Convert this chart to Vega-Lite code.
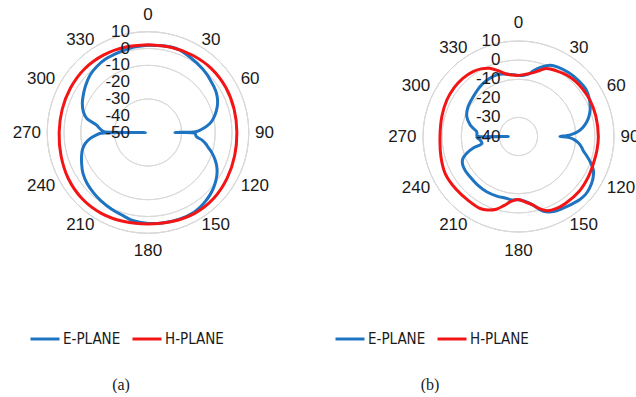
{
  "$schema": "https://vega.github.io/schema/vega-lite/v6.json",
  "padding": 0,
  "background": "white",
  "spacing": 10,
  "resolve": {
    "scale": {"color": "independent", "radius": "independent", "theta": "independent"},
    "legend": {"color": "independent"}
  },
  "config": {
    "view": {"stroke": null},
    "title": {"font": "Liberation Serif", "fontSize": 16, "fontWeight": "normal", "color": "#1a1a1a"},
    "text": {"font": "Liberation Sans", "fontSize": 17, "color": "#1a1a1a"}
  },
  "datasets": {
    "angles": [
      {"deg": 0}, {"deg": 30}, {"deg": 60}, {"deg": 90}, {"deg": 120}, {"deg": 150},
      {"deg": 180}, {"deg": 210}, {"deg": 240}, {"deg": 270}, {"deg": 300}, {"deg": 330}
    ],
    "levels_a": [{"db": 10}, {"db": 0}, {"db": -10}, {"db": -20}, {"db": -30}, {"db": -40}, {"db": -50}],
    "levels_b": [{"db": 10}, {"db": 0}, {"db": -10}, {"db": -20}, {"db": -30}, {"db": -40}],
    "pattern_a": [
      {"plane": "E-PLANE", "deg": 0, "db": 2.0}, {"plane": "E-PLANE", "deg": 10, "db": 2.4},
      {"plane": "E-PLANE", "deg": 20, "db": 2.7}, {"plane": "E-PLANE", "deg": 30, "db": 1.2},
      {"plane": "E-PLANE", "deg": 40, "db": 0.0}, {"plane": "E-PLANE", "deg": 45, "db": -0.7},
      {"plane": "E-PLANE", "deg": 50, "db": -1.5}, {"plane": "E-PLANE", "deg": 55, "db": -2.2},
      {"plane": "E-PLANE", "deg": 60, "db": -3.0}, {"plane": "E-PLANE", "deg": 65, "db": -4.3},
      {"plane": "E-PLANE", "deg": 70, "db": -6.2}, {"plane": "E-PLANE", "deg": 75, "db": -8.6},
      {"plane": "E-PLANE", "deg": 80, "db": -11.5}, {"plane": "E-PLANE", "deg": 84, "db": -15},
      {"plane": "E-PLANE", "deg": 87, "db": -18.5}, {"plane": "E-PLANE", "deg": 89, "db": -21.5},
      {"plane": "E-PLANE", "deg": 90, "db": -34}, {"plane": "E-PLANE", "deg": 91, "db": -22},
      {"plane": "E-PLANE", "deg": 93, "db": -21.6}, {"plane": "E-PLANE", "deg": 95, "db": -21},
      {"plane": "E-PLANE", "deg": 98, "db": -17.5}, {"plane": "E-PLANE", "deg": 101, "db": -15},
      {"plane": "E-PLANE", "deg": 104, "db": -13}, {"plane": "E-PLANE", "deg": 108, "db": -9.8},
      {"plane": "E-PLANE", "deg": 112, "db": -7}, {"plane": "E-PLANE", "deg": 116, "db": -4.5},
      {"plane": "E-PLANE", "deg": 120, "db": -2.5}, {"plane": "E-PLANE", "deg": 125, "db": -0.6},
      {"plane": "E-PLANE", "deg": 130, "db": 1.0}, {"plane": "E-PLANE", "deg": 135, "db": 2.3},
      {"plane": "E-PLANE", "deg": 140, "db": 3.3}, {"plane": "E-PLANE", "deg": 145, "db": 4.2},
      {"plane": "E-PLANE", "deg": 150, "db": 4.8}, {"plane": "E-PLANE", "deg": 160, "db": 4.9},
      {"plane": "E-PLANE", "deg": 170, "db": 4.5}, {"plane": "E-PLANE", "deg": 180, "db": 4.1},
      {"plane": "E-PLANE", "deg": 190, "db": 3.2}, {"plane": "E-PLANE", "deg": 197, "db": 1.6},
      {"plane": "E-PLANE", "deg": 205, "db": 0.6}, {"plane": "E-PLANE", "deg": 215, "db": -0.7},
      {"plane": "E-PLANE", "deg": 222, "db": -1.6}, {"plane": "E-PLANE", "deg": 230, "db": -2.7},
      {"plane": "E-PLANE", "deg": 238, "db": -4.3}, {"plane": "E-PLANE", "deg": 245, "db": -6.4},
      {"plane": "E-PLANE", "deg": 250, "db": -7.9}, {"plane": "E-PLANE", "deg": 255, "db": -9.5},
      {"plane": "E-PLANE", "deg": 260, "db": -12}, {"plane": "E-PLANE", "deg": 264, "db": -15.3},
      {"plane": "E-PLANE", "deg": 267, "db": -19}, {"plane": "E-PLANE", "deg": 269, "db": -22},
      {"plane": "E-PLANE", "deg": 270, "db": -48.5}, {"plane": "E-PLANE", "deg": 271, "db": -24},
      {"plane": "E-PLANE", "deg": 272, "db": -23}, {"plane": "E-PLANE", "deg": 275, "db": -21},
      {"plane": "E-PLANE", "deg": 278, "db": -19.3}, {"plane": "E-PLANE", "deg": 283, "db": -12.5},
      {"plane": "E-PLANE", "deg": 288, "db": -9.5}, {"plane": "E-PLANE", "deg": 294, "db": -7.2},
      {"plane": "E-PLANE", "deg": 300, "db": -5.5}, {"plane": "E-PLANE", "deg": 307, "db": -3.5},
      {"plane": "E-PLANE", "deg": 315, "db": -1.4}, {"plane": "E-PLANE", "deg": 322, "db": -0.3},
      {"plane": "E-PLANE", "deg": 330, "db": 0.5}, {"plane": "E-PLANE", "deg": 340, "db": 0.8},
      {"plane": "E-PLANE", "deg": 350, "db": 1.5}, {"plane": "E-PLANE", "deg": 360, "db": 2.0},
      {"plane": "H-PLANE", "deg": 0, "db": 2.2}, {"plane": "H-PLANE", "deg": 15, "db": 2.5},
      {"plane": "H-PLANE", "deg": 30, "db": 3.1}, {"plane": "H-PLANE", "deg": 45, "db": 3.6},
      {"plane": "H-PLANE", "deg": 60, "db": 3.5}, {"plane": "H-PLANE", "deg": 75, "db": 3.1},
      {"plane": "H-PLANE", "deg": 90, "db": 2.9}, {"plane": "H-PLANE", "deg": 105, "db": 3.4},
      {"plane": "H-PLANE", "deg": 120, "db": 4.4}, {"plane": "H-PLANE", "deg": 135, "db": 5.4},
      {"plane": "H-PLANE", "deg": 150, "db": 5.6}, {"plane": "H-PLANE", "deg": 165, "db": 4.9},
      {"plane": "H-PLANE", "deg": 180, "db": 4.4}, {"plane": "H-PLANE", "deg": 195, "db": 4.9},
      {"plane": "H-PLANE", "deg": 210, "db": 5.6}, {"plane": "H-PLANE", "deg": 225, "db": 5.6},
      {"plane": "H-PLANE", "deg": 240, "db": 4.8}, {"plane": "H-PLANE", "deg": 255, "db": 3.6},
      {"plane": "H-PLANE", "deg": 270, "db": 2.9}, {"plane": "H-PLANE", "deg": 285, "db": 2.9},
      {"plane": "H-PLANE", "deg": 300, "db": 3.2}, {"plane": "H-PLANE", "deg": 315, "db": 3.5},
      {"plane": "H-PLANE", "deg": 330, "db": 3.2}, {"plane": "H-PLANE", "deg": 345, "db": 2.6},
      {"plane": "H-PLANE", "deg": 360, "db": 2.2}
    ],
    "pattern_b": [
      {"plane": "E-PLANE", "deg": 0, "db": -8.0}, {"plane": "E-PLANE", "deg": 5, "db": -7.8},
      {"plane": "E-PLANE", "deg": 9, "db": -7.0}, {"plane": "E-PLANE", "deg": 13, "db": -4.5},
      {"plane": "E-PLANE", "deg": 18, "db": -1.8}, {"plane": "E-PLANE", "deg": 24, "db": 0.9},
      {"plane": "E-PLANE", "deg": 30, "db": 1.8}, {"plane": "E-PLANE", "deg": 38, "db": 2.5},
      {"plane": "E-PLANE", "deg": 46, "db": 2.9}, {"plane": "E-PLANE", "deg": 55, "db": 3.1},
      {"plane": "E-PLANE", "deg": 62, "db": 2.0}, {"plane": "E-PLANE", "deg": 67, "db": 0.8},
      {"plane": "E-PLANE", "deg": 70, "db": -0.1}, {"plane": "E-PLANE", "deg": 74, "db": -1.6},
      {"plane": "E-PLANE", "deg": 78, "db": -3.5}, {"plane": "E-PLANE", "deg": 82, "db": -6.0},
      {"plane": "E-PLANE", "deg": 85, "db": -8.5}, {"plane": "E-PLANE", "deg": 88, "db": -12.5},
      {"plane": "E-PLANE", "deg": 89, "db": -15}, {"plane": "E-PLANE", "deg": 90, "db": -18.3},
      {"plane": "E-PLANE", "deg": 91, "db": -14}, {"plane": "E-PLANE", "deg": 93, "db": -11},
      {"plane": "E-PLANE", "deg": 96, "db": -8.5}, {"plane": "E-PLANE", "deg": 100, "db": -6.3},
      {"plane": "E-PLANE", "deg": 102, "db": -5.5}, {"plane": "E-PLANE", "deg": 105, "db": -3.5},
      {"plane": "E-PLANE", "deg": 109, "db": -0.5}, {"plane": "E-PLANE", "deg": 114, "db": 2.9},
      {"plane": "E-PLANE", "deg": 120, "db": 4.9}, {"plane": "E-PLANE", "deg": 126, "db": 6.0},
      {"plane": "E-PLANE", "deg": 131, "db": 6.4}, {"plane": "E-PLANE", "deg": 136, "db": 6.0},
      {"plane": "E-PLANE", "deg": 141, "db": 5.2}, {"plane": "E-PLANE", "deg": 148, "db": 4.2},
      {"plane": "E-PLANE", "deg": 155, "db": 3.4}, {"plane": "E-PLANE", "deg": 162, "db": 1.0},
      {"plane": "E-PLANE", "deg": 168, "db": -3.3}, {"plane": "E-PLANE", "deg": 174, "db": -5.8},
      {"plane": "E-PLANE", "deg": 180, "db": -6.9}, {"plane": "E-PLANE", "deg": 186, "db": -6.6},
      {"plane": "E-PLANE", "deg": 191, "db": -7.0}, {"plane": "E-PLANE", "deg": 200, "db": -6.8},
      {"plane": "E-PLANE", "deg": 210, "db": -6.6}, {"plane": "E-PLANE", "deg": 220, "db": -6.8},
      {"plane": "E-PLANE", "deg": 230, "db": -7.0}, {"plane": "E-PLANE", "deg": 237, "db": -6.9},
      {"plane": "E-PLANE", "deg": 243, "db": -7.2}, {"plane": "E-PLANE", "deg": 248, "db": -8.5},
      {"plane": "E-PLANE", "deg": 252, "db": -11.5}, {"plane": "E-PLANE", "deg": 256, "db": -16},
      {"plane": "E-PLANE", "deg": 259, "db": -20.5}, {"plane": "E-PLANE", "deg": 264, "db": -20},
      {"plane": "E-PLANE", "deg": 268, "db": -18.5}, {"plane": "E-PLANE", "deg": 269, "db": -18.2},
      {"plane": "E-PLANE", "deg": 270, "db": -34.7}, {"plane": "E-PLANE", "deg": 271, "db": -18.3},
      {"plane": "E-PLANE", "deg": 274, "db": -18.2}, {"plane": "E-PLANE", "deg": 277, "db": -17.8},
      {"plane": "E-PLANE", "deg": 283, "db": -14.2}, {"plane": "E-PLANE", "deg": 291, "db": -11},
      {"plane": "E-PLANE", "deg": 300, "db": -9.4}, {"plane": "E-PLANE", "deg": 311, "db": -8.5},
      {"plane": "E-PLANE", "deg": 318, "db": -7.6}, {"plane": "E-PLANE", "deg": 326, "db": -6.6},
      {"plane": "E-PLANE", "deg": 333, "db": -6.0}, {"plane": "E-PLANE", "deg": 340, "db": -5.8},
      {"plane": "E-PLANE", "deg": 346, "db": -6.3}, {"plane": "E-PLANE", "deg": 352, "db": -7.2},
      {"plane": "E-PLANE", "deg": 360, "db": -8.0},
      {"plane": "H-PLANE", "deg": 0, "db": -8.0}, {"plane": "H-PLANE", "deg": 6, "db": -7.3},
      {"plane": "H-PLANE", "deg": 13, "db": -5.7}, {"plane": "H-PLANE", "deg": 18, "db": -3.5},
      {"plane": "H-PLANE", "deg": 22.5, "db": -1.4}, {"plane": "H-PLANE", "deg": 30, "db": -0.3},
      {"plane": "H-PLANE", "deg": 38, "db": 0.9}, {"plane": "H-PLANE", "deg": 46, "db": 1.5},
      {"plane": "H-PLANE", "deg": 54, "db": 1.8}, {"plane": "H-PLANE", "deg": 63, "db": 2.0},
      {"plane": "H-PLANE", "deg": 75, "db": 1.9}, {"plane": "H-PLANE", "deg": 90, "db": 1.8},
      {"plane": "H-PLANE", "deg": 100, "db": 1.7}, {"plane": "H-PLANE", "deg": 110, "db": 1.7},
      {"plane": "H-PLANE", "deg": 120, "db": 2.2}, {"plane": "H-PLANE", "deg": 132, "db": 2.8},
      {"plane": "H-PLANE", "deg": 145, "db": 2.8}, {"plane": "H-PLANE", "deg": 152, "db": 2.6},
      {"plane": "H-PLANE", "deg": 159, "db": 1.6}, {"plane": "H-PLANE", "deg": 164, "db": -0.8},
      {"plane": "H-PLANE", "deg": 168, "db": -3.3}, {"plane": "H-PLANE", "deg": 174, "db": -5.5},
      {"plane": "H-PLANE", "deg": 180, "db": -7.0}, {"plane": "H-PLANE", "deg": 184, "db": -6.5},
      {"plane": "H-PLANE", "deg": 187, "db": -5.6}, {"plane": "H-PLANE", "deg": 192, "db": -3.0},
      {"plane": "H-PLANE", "deg": 197, "db": -0.2}, {"plane": "H-PLANE", "deg": 203, "db": 1.8},
      {"plane": "H-PLANE", "deg": 208, "db": 2.7}, {"plane": "H-PLANE", "deg": 218, "db": 2.6},
      {"plane": "H-PLANE", "deg": 230, "db": 2.8}, {"plane": "H-PLANE", "deg": 243, "db": 3.0},
      {"plane": "H-PLANE", "deg": 255, "db": 2.0}, {"plane": "H-PLANE", "deg": 270, "db": 1.1},
      {"plane": "H-PLANE", "deg": 285, "db": 1.5}, {"plane": "H-PLANE", "deg": 297, "db": 2.1},
      {"plane": "H-PLANE", "deg": 307, "db": 2.3}, {"plane": "H-PLANE", "deg": 316, "db": 2.2},
      {"plane": "H-PLANE", "deg": 325, "db": 1.5}, {"plane": "H-PLANE", "deg": 331, "db": 0.5},
      {"plane": "H-PLANE", "deg": 337, "db": -1.2}, {"plane": "H-PLANE", "deg": 343, "db": -4.0},
      {"plane": "H-PLANE", "deg": 349, "db": -6.7}, {"plane": "H-PLANE", "deg": 355, "db": -7.7},
      {"plane": "H-PLANE", "deg": 360, "db": -8.0}
    ]
  },
  "hconcat": [
    {
      "width": 296,
      "height": 265,
      "title": {"text": "(a)", "orient": "bottom", "anchor": "middle", "dx": -27, "offset": 30},
      "layer": [
        {
          "data": {"name": "levels_a"},
          "mark": {"type": "arc", "theta": 0, "theta2": 6.2832, "filled": false, "stroke": "#d9d9d9", "strokeWidth": 1},
          "encoding": {
            "radius": {"field": "db", "type": "quantitative", "scale": {"type": "linear", "domain": [-50, 10], "range": [0, 100.8]}}
          }
        },
        {
          "data": {"name": "pattern_a"},
          "transform": [
            {"calculate": "datum.db + 50", "as": "r"},
            {"calculate": "datum.r * sin(datum.deg * PI / 180)", "as": "px"},
            {"calculate": "datum.r * cos(datum.deg * PI / 180)", "as": "py"}
          ],
          "mark": {"type": "line", "strokeWidth": 3, "strokeJoin": "round", "interpolate": "catmull-rom"},
          "encoding": {
            "x": {"field": "px", "type": "quantitative", "scale": {"domain": [-88.1, 88.1], "nice": false, "zero": false}, "axis": null},
            "y": {"field": "py", "type": "quantitative", "scale": {"domain": [-78.87, 78.87], "nice": false, "zero": false}, "axis": null},
            "order": {"field": "deg", "type": "quantitative"},
            "color": {
              "field": "plane", "type": "nominal",
              "scale": {"domain": ["E-PLANE", "H-PLANE"], "range": ["#1f74c2", "#f31515"]},
              "legend": {
                "orient": "none", "legendX": 29, "legendY": 323, "direction": "horizontal", "title": null,
                "symbolType": "stroke", "symbolSize": 841, "symbolStrokeWidth": 3, "padding": 0,
                "labelFont": "DejaVu Sans Condensed", "labelFontSize": 15, "labelColor": "#1a1a1a",
                "labelOffset": 2, "columnPadding": 5
              }
            }
          }
        },
        {
          "data": {"name": "levels_a"},
          "mark": {"type": "text", "align": "right", "baseline": "middle", "dx": -18},
          "encoding": {
            "theta": {"value": 0},
            "radius": {"field": "db", "type": "quantitative", "scale": {"type": "linear", "domain": [-50, 10], "range": [0, 100.8]}},
            "text": {"field": "db", "type": "nominal"}
          }
        },
        {
          "data": {"name": "angles"},
          "transform": [{"filter": "datum.deg > 0 && datum.deg < 180"}],
          "mark": {"type": "text", "align": "left", "baseline": "middle"},
          "encoding": {
            "theta": {"field": "deg", "type": "quantitative", "scale": {"domain": [0, 360], "range": [0, 6.283185307]}},
            "radius": {"value": 107},
            "text": {"field": "deg", "type": "nominal"}
          }
        },
        {
          "data": {"name": "angles"},
          "transform": [{"filter": "datum.deg > 180"}],
          "mark": {"type": "text", "align": "right", "baseline": "middle"},
          "encoding": {
            "theta": {"field": "deg", "type": "quantitative", "scale": {"domain": [0, 360], "range": [0, 6.283185307]}},
            "radius": {"value": 107},
            "text": {"field": "deg", "type": "nominal"}
          }
        },
        {
          "data": {"name": "angles"},
          "transform": [{"filter": "datum.deg == 0 || datum.deg == 180"}],
          "mark": {"type": "text", "align": "center", "baseline": "middle"},
          "encoding": {
            "theta": {"field": "deg", "type": "quantitative", "scale": {"domain": [0, 360], "range": [0, 6.283185307]}},
            "radius": {"value": 118},
            "text": {"field": "deg", "type": "nominal"}
          }
        }
      ]
    },
    {
      "width": 425,
      "height": 273,
      "title": {"text": "(b)", "orient": "bottom", "anchor": "middle", "dx": -88.5, "offset": 30},
      "layer": [
        {
          "data": {"name": "levels_b"},
          "mark": {"type": "arc", "theta": 0, "theta2": 6.2832, "filled": false, "stroke": "#d9d9d9", "strokeWidth": 1},
          "encoding": {
            "radius": {"field": "db", "type": "quantitative", "scale": {"type": "linear", "domain": [-40, 10], "range": [0, 95.5]}}
          }
        },
        {
          "data": {"name": "pattern_b"},
          "transform": [
            {"calculate": "datum.db + 40", "as": "r"},
            {"calculate": "datum.r * sin(datum.deg * PI / 180)", "as": "px"},
            {"calculate": "datum.r * cos(datum.deg * PI / 180)", "as": "py"}
          ],
          "mark": {"type": "line", "strokeWidth": 3, "strokeJoin": "round", "interpolate": "catmull-rom"},
          "encoding": {
            "x": {"field": "px", "type": "quantitative", "scale": {"domain": [-111.26, 111.26], "nice": false, "zero": false}, "axis": null},
            "y": {"field": "py", "type": "quantitative", "scale": {"domain": [-71.47, 71.47], "nice": false, "zero": false}, "axis": null},
            "order": {"field": "deg", "type": "quantitative"},
            "color": {
              "field": "plane", "type": "nominal",
              "scale": {"domain": ["E-PLANE", "H-PLANE"], "range": ["#1f74c2", "#f31515"]},
              "legend": {
                "orient": "none", "legendX": 28, "legendY": 323, "direction": "horizontal", "title": null,
                "symbolType": "stroke", "symbolSize": 841, "symbolStrokeWidth": 3, "padding": 0,
                "labelFont": "DejaVu Sans Condensed", "labelFontSize": 15, "labelColor": "#1a1a1a",
                "labelOffset": 2, "columnPadding": 5
              }
            }
          }
        },
        {
          "data": {"name": "levels_b"},
          "mark": {"type": "text", "align": "right", "baseline": "middle", "dx": -18},
          "encoding": {
            "theta": {"value": 0},
            "radius": {"field": "db", "type": "quantitative", "scale": {"type": "linear", "domain": [-40, 10], "range": [0, 95.5]}},
            "text": {"field": "db", "type": "nominal"}
          }
        },
        {
          "data": {"name": "angles"},
          "transform": [{"filter": "datum.deg > 0 && datum.deg < 180"}],
          "mark": {"type": "text", "align": "left", "baseline": "middle"},
          "encoding": {
            "theta": {"field": "deg", "type": "quantitative", "scale": {"domain": [0, 360], "range": [0, 6.283185307]}},
            "radius": {"value": 102},
            "text": {"field": "deg", "type": "nominal"}
          }
        },
        {
          "data": {"name": "angles"},
          "transform": [{"filter": "datum.deg > 180"}],
          "mark": {"type": "text", "align": "right", "baseline": "middle"},
          "encoding": {
            "theta": {"field": "deg", "type": "quantitative", "scale": {"domain": [0, 360], "range": [0, 6.283185307]}},
            "radius": {"value": 102},
            "text": {"field": "deg", "type": "nominal"}
          }
        },
        {
          "data": {"name": "angles"},
          "transform": [{"filter": "datum.deg == 0 || datum.deg == 180"}],
          "mark": {"type": "text", "align": "center", "baseline": "middle"},
          "encoding": {
            "theta": {"field": "deg", "type": "quantitative", "scale": {"domain": [0, 360], "range": [0, 6.283185307]}},
            "radius": {"value": 114},
            "text": {"field": "deg", "type": "nominal"}
          }
        }
      ]
    }
  ]
}
